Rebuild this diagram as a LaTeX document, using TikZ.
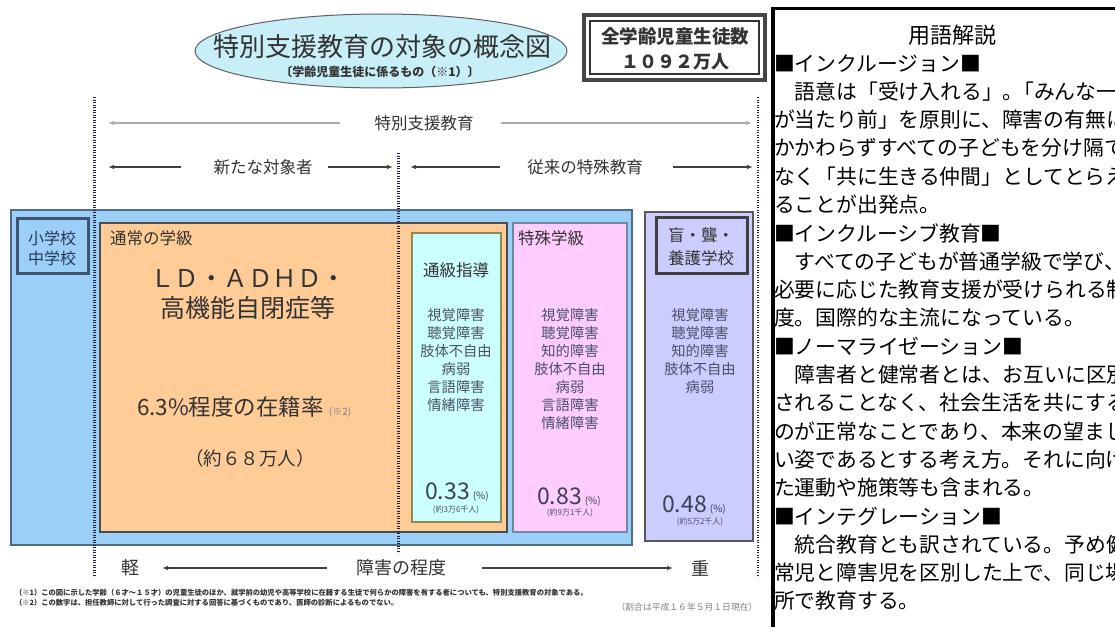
\documentclass[tikz,border=0pt]{standalone}
\usepackage{fontspec}
\setmainfont{Noto Sans CJK JP}
\usetikzlibrary{arrows.meta,shapes.geometric}
\definecolor{ellfill}{HTML}{C8EEF8}
\definecolor{bluefill}{HTML}{9CCFF8}
\definecolor{bluedraw}{HTML}{4E6A8C}
\definecolor{orangefill}{HTML}{FFCB97}
\definecolor{cyanfill}{HTML}{CCFFFF}
\definecolor{pinkfill}{HTML}{FFCCFF}
\definecolor{lavfill}{HTML}{CCCCFF}
\definecolor{txt}{HTML}{333333}
\definecolor{listtxt}{HTML}{4A5068}
\definecolor{dotc}{HTML}{1E2240}
\definecolor{navytxt}{HTML}{27385A}
\newcommand\fsz[2]{\fontsize{#1}{#2}\selectfont}
\newcommand\halfp[1]{\makebox[0.5em][l]{#1}}
\begin{document}
\begin{tikzpicture}[x=1pt,y=-1pt,
  box/.style={draw, line width=1.3pt, inner sep=0pt, outer sep=0pt, anchor=north west},
  t/.style={inner sep=0pt, outer sep=0pt, text=txt},
  lab/.style={t, font=\fsz{16.5}{16.5}},
  li/.style={t, text=listtxt, align=center, font=\fsz{14.3}{18}},
  pct/.style={t, text=listtxt!80!black, font=\fsz{23}{23}},
  sm/.style={t, text=listtxt, font=\fsz{8}{8}},
  arrlight/.style={draw=gray!65, line width=1.2pt, -{Latex[length=6pt,width=4.5pt]}},
  arrdark/.style={draw=black!75, line width=1.2pt, -{Latex[length=6pt,width=4.5pt]}},
  vdots/.style={draw=dotc, line width=2.4pt, dash pattern=on 1.3pt off 1.2pt},
  pl/.style={inner sep=0pt, outer sep=0pt, anchor=west, font=\fsz{20.8}{20.8}},
]
\useasboundingbox (0,0) rectangle (1115,626);
\fill[white] (0,0) rectangle (1115,626);

% title
\node[ellipse, draw=gray!75!black, line width=1pt, fill=ellfill, minimum width=372pt, minimum height=74pt, inner sep=0pt] (ell) at (381,51) {};
\node[t, font=\fsz{26}{26}] (title) at (382,47) {特別支援教育の対象の概念図};
\node[t, font=\bfseries\fsz{12}{12}] (sub) at (380,72) {〔学齢児童生徒に係るもの（※1）〕};

% total box
\node[box, draw=gray!55!black, line width=4pt, minimum width=181pt, minimum height=65pt] (totbox) at (584,15) {};
\node[box, draw=gray!40!black, line width=1.2pt, minimum width=169pt, minimum height=53pt] (totin) at (590,21) {};
\node[t, font=\bfseries\fsz{18.5}{18.5}] (tot1) at (675,36) {全学齢児童生徒数};
\node[t, font=\bfseries\fsz{18}{18}] (tot2) at (675,62) {１０９２万人};

% row 1
\node[lab] (r1) at (424,123) {特別支援教育};
\coordinate (r1L) at (108,123);
\coordinate (r1R) at (752,123);
\draw[arrlight] ([xshift=-35pt]r1.west) -- (r1L);
\draw[arrlight] ([xshift=27pt]r1.east) -- (r1R);

% row 2
\node[lab] (r2a) at (263,167) {新たな対象者};
\coordinate (r2aL) at (108,167);
\coordinate (r2aR) at (393,167);
\draw[arrdark] ([xshift=-33pt]r2a.west) -- (r2aL);
\draw[arrdark] ([xshift=15pt]r2a.east) -- (r2aR);
\node[lab] (r2b) at (585,167) {従来の特殊教育};
\coordinate (r2bL) at (410,167);
\coordinate (r2bR) at (753,167);
\draw[arrdark] ([xshift=-27pt]r2b.west) -- (r2bL);
\draw[arrdark] ([xshift=30pt]r2b.east) -- (r2bR);

% boxes
\node[box, fill=bluefill, draw=bluedraw, minimum width=621pt, minimum height=335pt] (blue) at (11,210) {};
\node[box, fill=bluefill, draw=bluedraw!80!black, line width=3pt, minimum width=71pt, minimum height=55pt] (elem) at (17,218) {};
\node[t, text=navytxt, align=center, font=\fsz{16}{20}] (elemt) at (52,248) {小学校\\中学校};

\node[box, fill=orangefill, draw=gray!60!black, minimum width=407pt, minimum height=309pt] (reg) at (100,223) {};
\node[lab, anchor=west] (regt) at (110,238) {通常の学級};
\node[t, font=\fsz{24.5}{24.5}] (ld) at (248,278) {ＬＤ・ＡＤＨＤ・};
\node[t, font=\fsz{25}{25}] (hfa) at (248,308) {高機能自閉症等};
\node[t, font=\fsz{22.5}{22.5}, anchor=west] (rate) at (137,407) {6.3\%程度の在籍率\hspace{5pt}{\fsz{10}{10}\color{gray}(※2)}};
\node[t, font=\fsz{18.5}{18.5}] (num) at (250,458) {（約６８万人）};

\node[box, fill=cyanfill, draw=olive!45!gray, minimum width=89pt, minimum height=289pt] (tsu) at (412,233) {};
\node[lab] (tsut) at (456,270) {通級指導};
\node[li] (tsul) at (456,360) {視覚障害\\聴覚障害\\肢体不自由\\病弱\\言語障害\\情緒障害};
\node[pct] (tsup) at (457,492) {0.33\hspace{3pt}{\fsz{10}{10}(\%)}};
\node[sm] (tsun) at (456,510) {(約3万6千人)};

\node[box, fill=pinkfill, draw=bluedraw!80, minimum width=114pt, minimum height=309pt] (spc) at (513,223) {};
\node[lab, anchor=west] (spct) at (518,238) {特殊学級};
\node[li] (spcl) at (570,369) {視覚障害\\聴覚障害\\知的障害\\肢体不自由\\病弱\\言語障害\\情緒障害};
\node[pct] (spcp) at (569,497) {0.83\hspace{3pt}{\fsz{10}{10}(\%)}};
\node[sm] (spcn) at (570,513) {(約9万1千人)};

\node[box, fill=lavfill, draw=gray!70!black, minimum width=108pt, minimum height=329pt] (sch) at (645,212) {};
\node[box, fill=lavfill, draw=gray!50!black, line width=3pt, minimum width=91pt, minimum height=56pt] (scht) at (656,217) {};
\node[t, align=center, font=\fsz{16.5}{23}] (schtt) at (701,246.5) {盲・聾・\\養護学校};
\node[li] (schl) at (700,351) {視覚障害\\聴覚障害\\知的障害\\肢体不自由\\病弱};
\node[pct] (schp) at (694,505) {0.48\hspace{3pt}{\fsz{10}{10}(\%)}};
\node[sm] (schn) at (700,522) {(約5万2千人)};

% dotted lines
\coordinate (dA1) at (94.5,97);  \coordinate (dA2) at (94.5,577);
\coordinate (dB1) at (398.5,153); \coordinate (dB2) at (398.5,553);
\coordinate (dC1) at (758,97);  \coordinate (dC2) at (758,577);
\draw[vdots] (dA1) -- (dA2);
\draw[vdots] (dB1) -- (dB2);
\draw[vdots] (dC1) -- (dC2);

% degree row
\node[t, font=\fsz{18}{18}] (light) at (130,568) {軽};
\node[t, font=\fsz{18}{18}] (deg) at (401,568) {障害の程度};
\node[t, font=\fsz{18}{18}] (heavy) at (700,568) {重};
\draw[arrdark] ([xshift=-29pt]deg.west) -- ([xshift=23pt]light.east);
\draw[arrdark] ([xshift=36pt]deg.east) -- ([xshift=-18pt]heavy.west);

% footnotes
\node[t, anchor=west, font=\bfseries\fsz{7.3}{7.3}] (fn1) at (15,593) {（※1）この図に示した学齢（６才～１５才）の児童生徒のほか、就学前の幼児や高等学校に在籍する生徒で何らかの障害を有する者についても、特別支援教育の対象である。};
\node[t, anchor=west, font=\bfseries\fsz{7.3}{7.3}] (fn2) at (15,603) {（※2）この数字は、担任教師に対して行った調査に対する回答に基づくものであり、医師の診断によるものでない。};
\node[t, text=gray, font=\fsz{8.8}{8.8}] (date) at (687,607) {（割合は平成１６年５月１日現在）};

% glossary panel
\begin{scope}
\clip (770,0) rectangle (1115,626);
\draw[line width=2.5pt] (1120,8.5) -- (772,8.5);
\draw[line width=4pt] (772.5,7) -- (772.5,630);
\node[t, text=black, font=\fsz{22}{22}] (g0) at (952,35) {用語解説};
\foreach \txt [count=\i from 2] in {
  {■インクルージョン■},
  {　語意は「受け入れる」\halfp{。}「みんな一緒},
  {が当たり前」を原則に、障害の有無に},
  {かかわらずすべての子どもを分け隔て},
  {なく「共に生きる仲間」としてとらえ},
  {ることが出発点。},
  {■インクルーシブ教育■},
  {　すべての子どもが普通学級で学び、},
  {必要に応じた教育支援が受けられる制},
  {度。国際的な主流になっている。},
  {■ノーマライゼーション■},
  {　障害者と健常者とは、お互いに区別},
  {されることなく、社会生活を共にする},
  {のが正常なことであり、本来の望まし},
  {い姿であるとする考え方。それに向け},
  {た運動や施策等も含まれる。},
  {■インテグレーション■},
  {　統合教育とも訳されている。予め健},
  {常児と障害児を区別した上で、同じ場},
  {所で教育する。}}
  \node[pl] (g\i) at (774,{35+(\i-1)*28.3}) {\txt};
\end{scope}
\end{tikzpicture}
\end{document}
